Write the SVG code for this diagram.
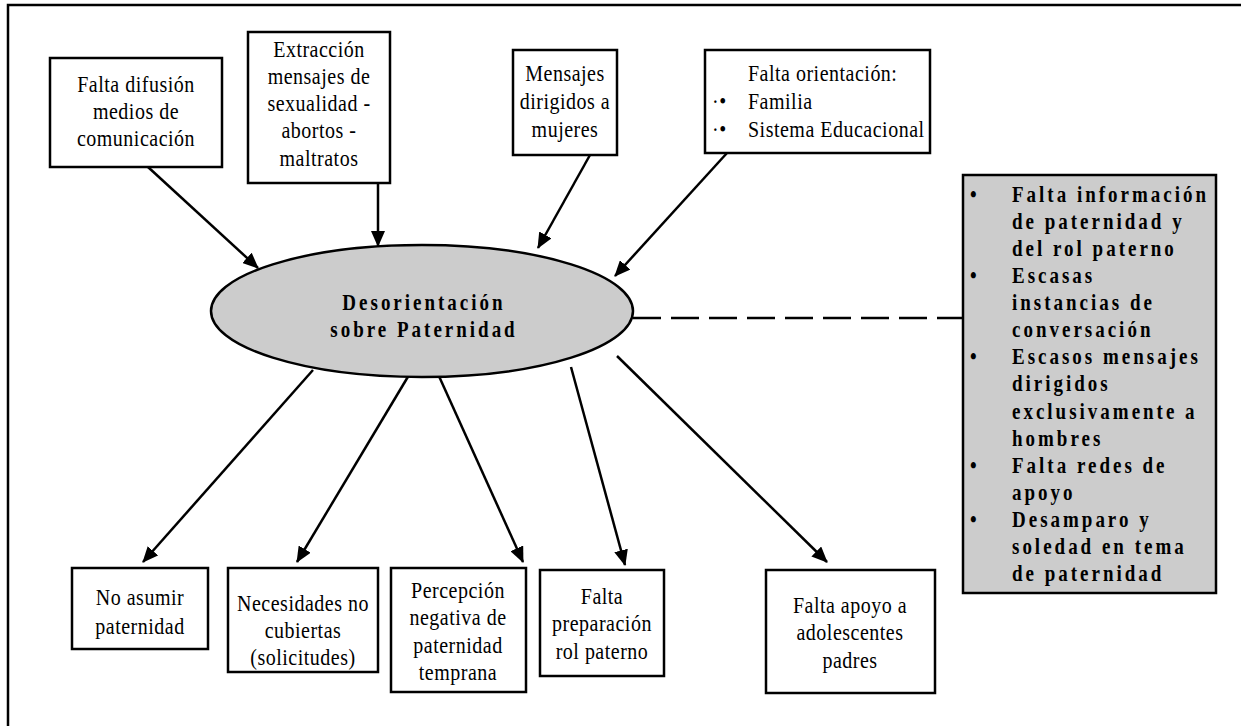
<svg xmlns="http://www.w3.org/2000/svg" width="1241" height="726" viewBox="0 0 1241 726">
<defs>
<style>
.box{fill:#fff;stroke:#000;stroke-width:2.5}
.gray{fill:#cccccc;stroke:#000;stroke-width:2.5}
text{transform-box:fill-box;transform-origin:center;transform:scaleY(1.2)}
.t{font-family:"Liberation Serif","Times New Roman",serif;font-size:20px;letter-spacing:0.5px;fill:#000}
.c{text-anchor:middle}
.b{font-family:"Liberation Serif","Times New Roman",serif;font-size:19px;font-weight:bold;letter-spacing:3px;fill:#000}
.ln{stroke:#000;stroke-width:2.5;fill:none}
.arr{stroke:#000;stroke-width:2.5;fill:none;marker-end:url(#ah)}
</style>
<marker id="ah" markerUnits="userSpaceOnUse" markerWidth="16" markerHeight="14" viewBox="0 0 16 14" refX="15" refY="7" orient="auto">
<path d="M0,0 L16,7 L0,14 z" fill="#000"/>
</marker>
</defs>
<rect width="1241" height="726" fill="#fff"/>
<g id="frame">
<path class="ln" d="M8,726 V5 H1241"/>
</g>
<g id="connectors">
<line class="arr" x1="148" y1="167" x2="258" y2="268"/>
<line class="arr" x1="378" y1="183" x2="378" y2="246"/>
<line class="arr" x1="590" y1="155" x2="538" y2="248"/>
<line class="arr" x1="727" y1="153" x2="615" y2="276"/>
<line class="arr" x1="313" y1="370" x2="143" y2="562"/>
<line class="arr" x1="409" y1="375" x2="297" y2="562"/>
<line class="arr" x1="438" y1="374" x2="523" y2="562"/>
<line class="arr" x1="571" y1="367" x2="625" y2="565"/>
<line class="arr" x1="617" y1="356" x2="827" y2="562"/>
<line class="ln" x1="633" y1="318" x2="962" y2="318" stroke-dasharray="28 10"/>
</g>
<g id="n-difusion">
<rect class="box" x="50" y="58" width="172" height="109"/>
<text class="t c" x="136" y="91">Falta difusión</text>
<text class="t c" x="136" y="118">medios de</text>
<text class="t c" x="136" y="145">comunicación</text>
</g>
<g id="n-extraccion">
<rect class="box" x="248" y="32" width="142" height="151"/>
<text class="t c" x="319" y="56">Extracción</text>
<text class="t c" x="319" y="83">mensajes de</text>
<text class="t c" x="319" y="110">sexualidad -</text>
<text class="t c" x="319" y="137">abortos -</text>
<text class="t c" x="319" y="165">maltratos</text>
</g>
<g id="n-mensajes">
<rect class="box" x="513" y="50" width="104" height="105"/>
<text class="t c" x="565" y="80">Mensajes</text>
<text class="t c" x="565" y="108">dirigidos a</text>
<text class="t c" x="565" y="136">mujeres</text>
</g>
<g id="n-orientacion">
<rect class="box" x="705" y="50" width="225" height="103"/>
<text class="t" x="748" y="80">Falta orientación:</text>
<text class="t" x="712" y="108">·•</text>
<text class="t" x="748" y="108">Familia</text>
<text class="t" x="712" y="136">·•</text>
<text class="t" x="748" y="136">Sistema Educacional</text>
</g>
<g id="n-central">
<ellipse class="gray" cx="422" cy="311" rx="211" ry="66"/>
<text class="b c" x="424" y="309">Desorientación</text>
<text class="b c" x="424" y="336">sobre Paternidad</text>
</g>
<g id="n-causas">
<rect class="gray" x="963" y="175" width="253" height="418"/>
<g class="b">
<text x="970" y="201">•</text><text x="1012" y="201">Falta información</text>
<text x="1012" y="228">de paternidad y</text>
<text x="1012" y="255">del rol paterno</text>
<text x="970" y="282">•</text><text x="1012" y="282">Escasas</text>
<text x="1012" y="309">instancias de</text>
<text x="1012" y="336">conversación</text>
<text x="970" y="363">•</text><text x="1012" y="363">Escasos mensajes</text>
<text x="1012" y="390">dirigidos</text>
<text x="1012" y="418">exclusivamente a</text>
<text x="1012" y="445">hombres</text>
<text x="970" y="472">•</text><text x="1012" y="472">Falta redes de</text>
<text x="1012" y="499">apoyo</text>
<text x="970" y="526">•</text><text x="1012" y="526">Desamparo y</text>
<text x="1012" y="553">soledad en tema</text>
<text x="1012" y="580">de paternidad</text>
</g>
</g>
<g id="n-noasumir">
<rect class="box" x="72" y="568" width="136" height="81"/>
<text class="t c" x="140" y="604">No asumir</text>
<text class="t c" x="140" y="633">paternidad</text>
</g>
<g id="n-necesidades">
<rect class="box" x="228" y="568" width="150" height="104"/>
<text class="t c" x="303" y="610">Necesidades no</text>
<text class="t c" x="303" y="637">cubiertas</text>
<text class="t c" x="303" y="664">(solicitudes)</text>
</g>
<g id="n-percepcion">
<rect class="box" x="391" y="568" width="135" height="124"/>
<text class="t c" x="458" y="597">Percepción</text>
<text class="t c" x="458" y="624">negativa de</text>
<text class="t c" x="458" y="652">paternidad</text>
<text class="t c" x="458" y="679">temprana</text>
</g>
<g id="n-preparacion">
<rect class="box" x="540" y="570" width="124" height="106"/>
<text class="t c" x="602" y="603">Falta</text>
<text class="t c" x="602" y="630">preparación</text>
<text class="t c" x="602" y="658">rol paterno</text>
</g>
<g id="n-apoyo">
<rect class="box" x="766" y="570" width="169" height="123"/>
<text class="t c" x="850" y="612">Falta apoyo a</text>
<text class="t c" x="850" y="639">adolescentes</text>
<text class="t c" x="850" y="667">padres</text>
</g>
</svg>
